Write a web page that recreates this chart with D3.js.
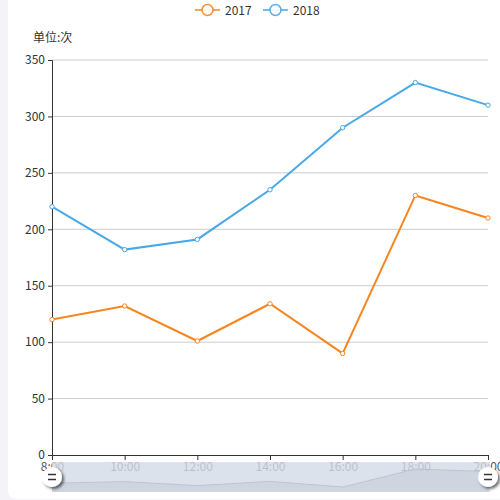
<!DOCTYPE html>
<html>
<head>
<meta charset="utf-8">
<script src="https://cdn.jsdelivr.net/npm/d3@7/dist/d3.min.js"></script>
<style>
  html, body { margin: 0; padding: 0; background: #f3f3f8; }
  svg { display: block; }
  text { font-family: "Noto Sans CJK SC", "Open Sans", sans-serif; }
</style>
</head>
<body>
<div id="chart"></div>
<script>
////////////////////////// DATA //////////////////////////
const categories = ['8:00', '10:00', '12:00', '14:00', '16:00', '18:00', '20:00']
const seriesNames = ['2017', '2018']
const values2017 = [120, 132, 101, 134, 90, 230, 210]
const values2018 = [220, 182, 191, 235, 290, 330, 310]
const yTicks = [0, 50, 100, 150, 200, 250, 300, 350]
const colors = ['#f7861f', '#48a8e8']

////////////////////////// SETUP //////////////////////////
const W = 500, H = 500
const margin = { left: 52, right: 12, top: 60, bottom: 45 }
const innerW = W - margin.left - margin.right
const innerH = H - margin.top - margin.bottom

const svg = d3.select('#chart').append('svg')
  .attr('width', W).attr('height', H)

// card background
svg.append('rect')
  .attr('x', 8).attr('y', -6)
  .attr('width', 510).attr('height', 505)
  .attr('rx', 8)
  .attr('fill', '#fff')

const defs = svg.append('defs')
const shadow = defs.append('filter').attr('id', 'hshadow')
  .attr('x', '-50%').attr('y', '-50%').attr('width', '200%').attr('height', '200%')
shadow.append('feDropShadow')
  .attr('dx', 2).attr('dy', 2).attr('stdDeviation', 1.5)
  .attr('flood-color', '#000').attr('flood-opacity', 0.6)

const x = d3.scalePoint().domain(categories).range([0, innerW])
const y = d3.scaleLinear().domain([0, 350]).range([innerH, 0])

const g = svg.append('g').attr('transform', `translate(${margin.left},${margin.top})`)

// grid
g.append('g')
  .selectAll('line')
  .data(yTicks.filter(d => d > 0))
  .join('line')
  .attr('x1', 0).attr('x2', innerW)
  .attr('y1', d => y(d)).attr('y2', d => y(d))
  .attr('stroke', '#ccc').attr('stroke-width', 1)

// y axis
const yAxis = g.append('g')
  .call(d3.axisLeft(y).tickValues(yTicks).tickSize(4).tickPadding(3))
yAxis.select('.domain').attr('stroke', '#333')
yAxis.selectAll('.tick line').attr('stroke', '#333')
yAxis.selectAll('text').attr('fill', '#333').style('font-size', '12px')

// unit label
svg.append('text')
  .attr('x', 33).attr('y', 42)
  .attr('fill', '#333').style('font-size', '12px')
  .text('单位:次')

// x axis
const xAxis = g.append('g')
  .attr('transform', `translate(0,${innerH})`)
  .call(d3.axisBottom(x).tickSizeOuter(0).tickSize(5).tickPadding(2))
xAxis.select('.domain').attr('stroke', '#333')
xAxis.selectAll('.tick line').attr('stroke', '#333')
xAxis.selectAll('text').attr('fill', '#555').style('font-size', '12px')

////////////////////////// DATA ZOOM //////////////////////////
const dzTop = 462, dzH = 30
const dz = svg.append('g').attr('transform', `translate(${margin.left},${dzTop})`)
dz.append('rect')
  .attr('x', 0).attr('y', 0)
  .attr('width', innerW + 2).attr('height', dzH)
  .attr('fill', '#d3dbe6').attr('opacity', 0.8)

// data shadow of the first series
const yShadow = d3.scaleLinear().domain(d3.extent(values2017)).range([25, 7])
const shadowArea = d3.area()
  .x((d, i) => x(categories[i]))
  .y0(dzH).y1(d => yShadow(d))
dz.append('path')
  .datum(values2017)
  .attr('d', shadowArea)
  .attr('fill', '#c5cdda').attr('opacity', 0.6)
dz.append('path')
  .datum(values2017)
  .attr('d', d3.line().x((d, i) => x(categories[i])).y(d => yShadow(d)))
  .attr('fill', 'none').attr('stroke', '#b5bfcd').attr('stroke-width', 0.8)

// handles
const handles = dz.selectAll('.handle')
  .data([0, innerW])
  .join('g')
  .attr('class', 'handle')
  .attr('transform', d => `translate(${d},${dzH / 2})`)
handles.append('circle')
  .attr('r', 10)
  .attr('fill', '#fff')
  .attr('filter', 'url(#hshadow)')
handles.append('path')
  .attr('d', 'M-4,-2.5H4M-4,2.5H4')
  .attr('stroke', '#333').attr('stroke-width', 1.6)

////////////////////////// LINES //////////////////////////
const lineGen = d3.line()
  .x((d, i) => x(categories[i]))
  .y(d => y(d))

const seriesData = [values2017, values2018]
seriesData.forEach((vals, si) => {
  g.append('path')
    .datum(vals)
    .attr('d', lineGen)
    .attr('fill', 'none')
    .attr('stroke', colors[si])
    .attr('stroke-width', 2)
  g.append('g')
    .selectAll('circle')
    .data(vals)
    .join('circle')
    .attr('cx', (d, i) => x(categories[i]))
    .attr('cy', d => y(d))
    .attr('r', 2.2)
    .attr('fill', '#fff')
    .attr('stroke', colors[si])
    .attr('stroke-width', 1)
})

////////////////////////// LEGEND //////////////////////////
const legend = svg.append('g').attr('transform', 'translate(195,10)')
const items = legend.selectAll('g')
  .data(seriesNames)
  .join('g')
  .attr('transform', (d, i) => `translate(${i * 68},0)`)
items.append('line')
  .attr('x1', 0).attr('x2', 25)
  .attr('stroke', (d, i) => colors[i]).attr('stroke-width', 2).attr('opacity', 0.75)
items.append('circle')
  .attr('cx', 12.5).attr('r', 5.5)
  .attr('fill', '#fff')
  .attr('stroke', (d, i) => colors[i]).attr('stroke-width', 1.5).attr('opacity', 0.9)
items.append('text')
  .attr('x', 30).attr('y', 4.5)
  .attr('fill', '#333').style('font-size', '12px')
  .text(d => d)
</script>
</body>
</html>
